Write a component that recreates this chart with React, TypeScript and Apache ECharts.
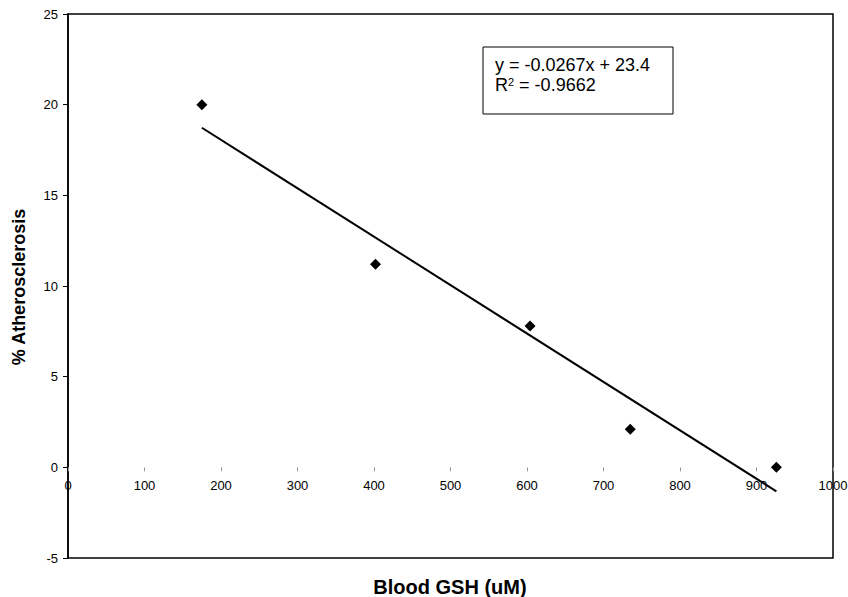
import React, { useEffect, useRef } from "react";
import * as echarts from "echarts";

const gshValues = [175, 402, 604, 735, 926];
const atheroValues = [20, 11.2, 7.8, 2.1, 0];
const trendSlope = -0.0267;
const trendIntercept = 23.4;
const equationLine = "y = -0.0267x + 23.4";
const r2Value = "= -0.9662";
const xTitle = "Blood GSH (uM)";
const yTitle = "% Atherosclerosis";
const yMin = -5;
const yMax = 25;

export default function App() {
  const ref = useRef<HTMLDivElement>(null);
  useEffect(() => {
    if (!ref.current) return;
    const chart = echarts.init(ref.current, null, { renderer: "svg" });
    const pts = gshValues.map((x, i) => [x, atheroValues[i]]);
    const xMin = Math.min(...gshValues);
    const xMax = Math.max(...gshValues);
    const trend = [
      [xMin, trendSlope * xMin + trendIntercept],
      [xMax, trendSlope * xMax + trendIntercept],
    ];
    const font = "Arial, 'Liberation Sans', sans-serif";
    const gridTop = 14;
    const gridBottom = 39;
    const gridH = 597 - gridTop - gridBottom;
    const zeroOffset = -(gridH * (0 - yMin)) / (yMax - yMin);
    chart.setOption({
      animation: false,
      backgroundColor: "#fff",
      grid: {
        left: 68,
        top: gridTop,
        right: 15,
        bottom: gridBottom,
        show: true,
        borderColor: "#000",
        borderWidth: 1.5,
        containLabel: false,
        outerBoundsMode: "none",
      },
      xAxis: {
        type: "value",
        min: 0,
        max: 1000,
        interval: 100,
        position: "bottom",
        offset: zeroOffset,
        axisLine: { show: true, onZero: false, lineStyle: { color: "rgba(0,0,0,0)" } },
        axisTick: { show: true, inside: false, length: 4, lineStyle: { color: "#999", width: 1 } },
        axisLabel: {
          color: "#000",
          fontSize: 13,
          fontFamily: font,
          margin: 12,
          formatter: (v: number) => String(v),
        },
        splitLine: { show: false },
      },
      yAxis: {
        type: "value",
        min: yMin,
        max: yMax,
        interval: 5,
        axisLine: { show: true, onZero: false, lineStyle: { color: "#000", width: 1.5 } },
        axisTick: { show: true, inside: false, length: 5, lineStyle: { color: "#000", width: 1 } },
        axisLabel: { color: "#000", fontSize: 13, fontFamily: font, margin: 10 },
        splitLine: { show: false },
      },
      graphic: [
        {
          type: "text",
          x: 450,
          y: 587,
          style: {
            text: xTitle,
            fontSize: 20,
            fontWeight: "bold",
            fontFamily: font,
            fill: "#000",
            align: "center",
            verticalAlign: "middle",
          },
        },
        {
          type: "text",
          x: 19,
          y: 287,
          rotation: Math.PI / 2,
          style: {
            text: yTitle,
            fontSize: 18,
            fontWeight: "bold",
            fontFamily: font,
            fill: "#000",
            align: "center",
            verticalAlign: "middle",
          },
        },
        {
          type: "rect",
          shape: { x: 483, y: 47, width: 190, height: 67 },
          style: { fill: "#fff", stroke: "#000", lineWidth: 1 },
          z: 10,
        },
        {
          type: "text",
          x: 495,
          y: 65,
          z: 11,
          style: { text: equationLine, fontSize: 18, fontFamily: font, fill: "#000", verticalAlign: "middle" },
        },
        {
          type: "text",
          x: 495,
          y: 85,
          z: 11,
          style: {
            text: "R{sup|2} " + r2Value,
            fontSize: 18,
            fontFamily: font,
            fill: "#000",
            verticalAlign: "middle",
            rich: {
              sup: { fontSize: 11, fontFamily: font, fill: "#000", verticalAlign: "top", lineHeight: 12 },
            },
          },
        },
      ],
      series: [
        {
          type: "line",
          data: trend,
          showSymbol: false,
          symbol: "none",
          lineStyle: { color: "#000", width: 2 },
          z: 2,
        },
        {
          type: "scatter",
          data: pts,
          symbol: "diamond",
          symbolSize: 11,
          itemStyle: { color: "#000", opacity: 1 },
          z: 3,
        },
      ],
    });
    return () => chart.dispose();
  }, []);
  return (
    <div
      ref={ref}
      style={{ position: "fixed", left: 0, top: 0, width: 848, height: 597, background: "#fff" }}
    />
  );
}
